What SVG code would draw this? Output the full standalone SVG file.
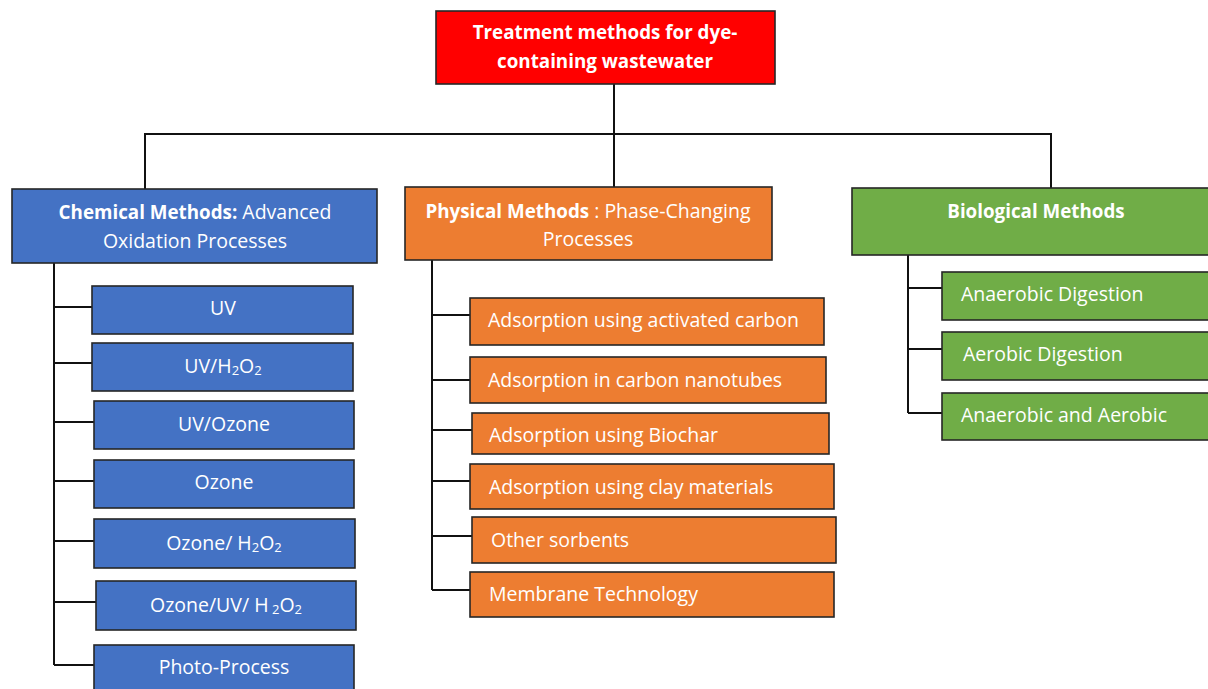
<svg xmlns="http://www.w3.org/2000/svg" width="1208" height="689" viewBox="0 0 1208 689">
<style>
rect{stroke:#262626;stroke-width:1.6}
.red{fill:#FF0000}.blue{fill:#4472C4}.org{fill:#ED7D31}.grn{fill:#70AD47}
text{font-family:"Open Sans","Liberation Sans",sans-serif;font-size:19.5px;fill:#ffffff}
.b{font-weight:bold;font-size:18.8px}
.c{text-anchor:middle}
.sub{font-size:13px}
#connectors path{fill:none;stroke:#111;stroke-width:2}
</style>
<rect x="0" y="0" width="1208" height="689" fill="#ffffff" style="stroke:none"/>
<g id="connectors">
<path d="M614,84 V134 M145,189 V134 H1051 V188"/>
<path d="M54,263 V665 M54,307 H92 M54,363 H92 M54,422 H94 M54,481 H94 M54,541 H94 M54,602 H96 M54,665 H94"/>
<path d="M432,260 V590 M614,134 V187 M432,315 H470 M432,380 H470 M432,430 H472 M432,481 H470 M432,536 H472 M432,590 H470"/>
<path d="M908,255 V413 M908,288 H942 M908,349 H942 M908,413 H942"/>
</g>
<g id="root"><rect class="red" x="436" y="11" width="339" height="73"/>
<text class="b c" x="605" y="39">Treatment methods for dye-</text>
<text class="b c" x="605" y="68">containing wastewater</text></g>
<g id="chemical"><rect class="blue" x="12" y="189" width="365" height="74"/>
<text class="c" x="195" y="219"><tspan class="b">Chemical Methods:</tspan> Advanced</text>
<text class="c" x="195" y="248">Oxidation Processes</text></g>
<g id="physical"><rect class="org" x="405" y="187" width="367" height="73"/>
<text class="c" x="588" y="218"><tspan class="b">Physical Methods</tspan> : Phase-Changing</text>
<text class="c" x="588" y="246">Processes</text></g>
<g id="biological"><rect class="grn" x="852" y="188" width="362" height="67"/>
<text class="b c" x="1036" y="218">Biological Methods</text></g>
<g id="uv"><rect class="blue" x="92" y="286" width="261" height="48"/><text class="c" x="223" y="315">UV</text></g>
<g id="uvh2o2"><rect class="blue" x="92" y="343" width="261" height="48"/><text class="c" x="223" y="373">UV/H<tspan class="sub" dy="2">2</tspan><tspan dy="-2">O</tspan><tspan class="sub" dy="2">2</tspan></text></g>
<g id="uvozone"><rect class="blue" x="94" y="401" width="260" height="48"/><text class="c" x="224" y="431">UV/Ozone</text></g>
<g id="ozone"><rect class="blue" x="94" y="460" width="260" height="48"/><text class="c" x="224" y="489">Ozone</text></g>
<g id="ozoneh2o2"><rect class="blue" x="94" y="519" width="261" height="49"/><text class="c" x="224" y="550">Ozone/ H<tspan class="sub" dy="2">2</tspan><tspan dy="-2">O</tspan><tspan class="sub" dy="2">2</tspan></text></g>
<g id="ozoneuvh2o2"><rect class="blue" x="96" y="581" width="260" height="49"/><text class="c" x="226" y="612">Ozone/UV/ H<tspan class="sub" dy="2"> 2</tspan><tspan dy="-2">O</tspan><tspan class="sub" dy="2">2</tspan></text></g>
<g id="photo"><rect class="blue" x="94" y="645" width="260" height="50"/><text class="c" x="224" y="674">Photo-Process</text></g>
<g id="ac"><rect class="org" x="470" y="298" width="354" height="47"/><text x="488" y="327">Adsorption using activated carbon</text></g>
<g id="cnt"><rect class="org" x="470" y="357" width="356" height="46"/><text x="488" y="387">Adsorption in carbon nanotubes</text></g>
<g id="biochar"><rect class="org" x="472" y="413" width="357" height="41"/><text x="489" y="442">Adsorption using Biochar</text></g>
<g id="clay"><rect class="org" x="470" y="464" width="364" height="45"/><text x="489" y="494">Adsorption using clay materials</text></g>
<g id="other"><rect class="org" x="472" y="517" width="364" height="46"/><text x="491" y="547">Other sorbents</text></g>
<g id="membrane"><rect class="org" x="470" y="572" width="364" height="45"/><text x="489" y="601">Membrane Technology</text></g>
<g id="anaerobic"><rect class="grn" x="942" y="272" width="272" height="48"/><text x="961" y="301">Anaerobic Digestion</text></g>
<g id="aerobic"><rect class="grn" x="942" y="332" width="272" height="48"/><text x="963" y="361">Aerobic Digestion</text></g>
<g id="both"><rect class="grn" x="942" y="393" width="272" height="47"/><text x="961" y="422">Anaerobic and Aerobic</text></g>
</svg>
